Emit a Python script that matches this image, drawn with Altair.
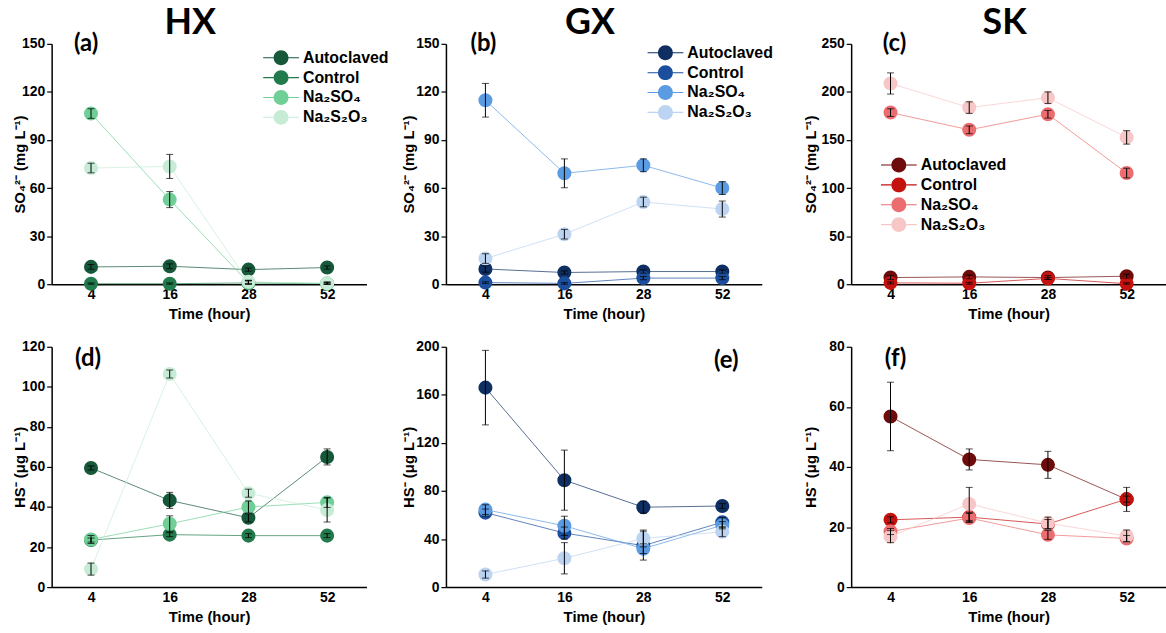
import altair as alt
import pandas as pd

times = ["4", "16", "28", "52"]
treatments = ["Autoclaved", "Control", "Na₂SO₄", "Na₂S₂O₃"]

green = ["#17583a", "#237a4c", "#6fcf96", "#c7ecd6"]
blue = ["#0f2f63", "#1b4f9e", "#5b9be2", "#bcd4f1"]
red = ["#6e0b0b", "#c4120f", "#ec6d6f", "#f7c6c6"]

# (a) HX sulfate, mg/L
a_auto = [10.8, 11.2, 9.1, 10.4]
a_ctrl = [0.3, 0.3, 0.8, 0.3]
a_so4 = [106.5, 52.8, 1.0, 0.5]
a_s2o3 = [72.5, 73.5, 1.5, 0.5]
a_auto_e = [1.5, 1.5, 1.0, 1.0]
a_ctrl_e = [0.5, 0.5, 1.5, 0.5]
a_so4_e = [3.0, 5.0, 1.0, 0.5]
a_s2o3_e = [3.0, 7.5, 1.0, 1.0]

# (b) GX sulfate
b_auto = [9.5, 7.3, 7.9, 7.9]
b_ctrl = [1.0, 0.5, 3.8, 3.8]
b_so4 = [114.8, 69.2, 74.2, 60.0]
b_s2o3 = [16.0, 31.2, 51.3, 46.9]
b_auto_e = [2.0, 1.0, 1.0, 1.0]
b_ctrl_e = [0.5, 0.5, 1.0, 1.0]
b_so4_e = [10.5, 9.0, 4.0, 4.0]
b_s2o3_e = [3.0, 3.0, 3.0, 5.0]

# (c) SK sulfate
c_auto = [6.9, 7.6, 6.9, 8.3]
c_ctrl = [1.4, 1.0, 6.0, 0.5]
c_so4 = [178.5, 160.6, 176.8, 115.6]
c_s2o3 = [208.8, 183.7, 194.0, 152.7]
c_auto_e = [2.0, 2.0, 2.0, 2.0]
c_ctrl_e = [1.0, 1.0, 1.0, 1.0]
c_so4_e = [4.0, 4.0, 4.0, 5.0]
c_s2o3_e = [11.0, 6.0, 6.0, 7.0]

# (d) HX sulfide, ug/L
d_auto = [59.5, 43.3, 34.6, 65.0]
d_ctrl = [23.5, 26.2, 25.7, 25.7]
d_so4 = [23.8, 31.6, 40.0, 42.3]
d_s2o3 = [9.0, 106.4, 46.9, 38.5]
d_auto_e = [1.0, 4.0, 2.0, 4.0]
d_ctrl_e = [1.0, 1.0, 1.0, 1.0]
d_so4_e = [2.0, 4.0, 3.0, 2.5]
d_s2o3_e = [3.0, 2.0, 2.0, 6.0]

# (e) GX sulfide
e_auto = [166.0, 89.0, 66.5, 67.5]
e_ctrl = [62.0, 45.0, 34.5, 54.0]
e_so4 = [64.5, 51.0, 32.0, 51.5]
e_s2o3 = [10.5, 24.0, 40.5, 46.0]
e_auto_e = [31.0, 25.0, 5.0, 2.0]
e_ctrl_e = [3.0, 5.0, 12.0, 4.0]
e_so4_e = [4.0, 8.0, 4.0, 3.0]
e_s2o3_e = [3.0, 13.0, 7.0, 4.0]

# (f) SK sulfide
f_auto = [56.8, 42.5, 40.7, 29.2]
f_ctrl = [22.4, 23.3, 21.0, 29.3]
f_so4 = [18.5, 23.0, 17.4, 16.2]
f_s2o3 = [16.8, 27.7, 21.3, 17.0]
f_auto_e = [11.4, 3.5, 4.5, 4.0]
f_ctrl_e = [1.0, 1.5, 1.5, 1.0]
f_so4_e = [1.0, 1.5, 1.5, 1.0]
f_s2o3_e = [2.0, 5.5, 2.0, 2.0]

SO4_TITLE = "SO₄²⁻ (mg L⁻¹)"
HS_TITLE = "HS⁻ (μg L⁻¹)"

LEGEND_PATH = ("M1,0A1,1 0 1,1 -1,0A1,1 0 1,1 1,0Z"
               "M-2.4,-0.07L-1,-0.07L-1,0.07L-2.4,0.07Z"
               "M1,-0.07L2.4,-0.07L2.4,0.07L1,0.07Z")

AXIS_FONT = "Liberation Sans"


def build_df(series, errors):
    rows = []
    for tr, vals, errs in zip(treatments, series, errors):
        for t, v, e in zip(times, vals, errs):
            rows.append({"time": t, "treatment": tr, "value": v,
                         "lo": max(v - e, 0), "hi": v + e})
    return pd.DataFrame(rows)


def panel(series, errors, colors, ymax, ystep, ytitle, title_x, label,
          label_time, label_dx, label_dy, width, head=None, head_dx=0,
          legend_xy=None):
    df = build_df(series, errors)
    xenc = alt.X("time:N", sort=times,
                 scale=alt.Scale(domain=times, type="point", padding=0.5),
                 axis=alt.Axis(title="Time (hour)", labelAngle=0, ticks=False,
                               labelPadding=3, titlePadding=6))
    yscale = alt.Scale(domain=[0, ymax], nice=False, zero=True)
    yaxis = alt.Axis(values=list(range(0, ymax + 1, ystep)), title=ytitle,
                     titleX=title_x, grid=False, tickSize=5, labelPadding=2)
    if legend_xy is not None:
        leg = alt.Legend(title=None, orient="none", legendX=legend_xy[0],
                         legendY=legend_xy[1], symbolType=LEGEND_PATH,
                         symbolSize=225, symbolStrokeWidth=0, labelOffset=14,
                         rowPadding=4, padding=0, labelFont=AXIS_FONT,
                         labelFontSize=16, labelFontWeight="bold",
                         labelColor="black", symbolOpacity=1)
    else:
        leg = None
    base = alt.Chart(df).encode(x=xenc)
    # line colours: same palette, data-driven domain ordered by the treatments list
    lines = base.mark_line(strokeWidth=1, opacity=0.7).encode(
        y=alt.Y("value:Q", scale=yscale, axis=yaxis),
        stroke=alt.Stroke("treatment:N", scale=alt.Scale(range=colors),
                          legend=None, sort=treatments),
    )
    points = base.mark_circle(size=200, opacity=1).encode(
        y=alt.Y("value:Q", scale=yscale, axis=yaxis),
        color=alt.Color("treatment:N", scale=alt.Scale(domain=treatments, range=colors),
                        legend=leg, sort=treatments),
    )
    bars = base.mark_rule(color="black", strokeWidth=1).encode(
        y=alt.Y("lo:Q", scale=yscale, axis=yaxis), y2="hi:Q")
    cap_lo = base.mark_tick(color="black", thickness=1, size=7).encode(
        y=alt.Y("lo:Q", scale=yscale, axis=yaxis))
    cap_hi = base.mark_tick(color="black", thickness=1, size=7).encode(
        y=alt.Y("hi:Q", scale=yscale, axis=yaxis))
    lab = alt.Chart(pd.DataFrame({"t": [label]})).mark_text(
        font="Lato", fontSize=24, fontWeight="bold", color="black",
        baseline="middle", align="center", dx=label_dx, dy=label_dy,
    ).encode(x=alt.datum(label_time), y=alt.datum(ymax), text="t:N")
    props = dict(width=width, height=242)
    if head is not None:
        props["title"] = alt.TitleParams(head, font="Lato", fontSize=36,
                                         fontWeight="bold", color="black",
                                         offset=-10, dx=head_dx, anchor="middle")
    return alt.layer(lines, points, bars, cap_lo, cap_hi, lab).properties(**props)


pa = panel([a_auto, a_ctrl, a_so4, a_s2o3], [a_auto_e, a_ctrl_e, a_so4_e, a_s2o3_e],
           green, 150, 30, SO4_TITLE, -24, "(a)", "4", -5, 0, 317,
           head="HX", head_dx=-19, legend_xy=(223, 6))
pb = panel([b_auto, b_ctrl, b_so4, b_s2o3], [b_auto_e, b_ctrl_e, b_so4_e, b_s2o3_e],
           blue, 150, 30, SO4_TITLE, -30, "(b)", "4", -2, 0, 318,
           head="GX", head_dx=-14, legend_xy=(213, 1))
pc = panel([c_auto, c_ctrl, c_so4, c_s2o3], [c_auto_e, c_ctrl_e, c_so4_e, c_s2o3_e],
           red, 250, 50, SO4_TITLE, -33, "(c)", "4", 4, 0, 317,
           head="SK", head_dx=-4, legend_xy=(40, 114))
pd_ = panel([d_auto, d_ctrl, d_so4, d_s2o3], [d_auto_e, d_ctrl_e, d_so4_e, d_s2o3_e],
            green, 120, 20, HS_TITLE, -24, "(d)", "4", -3, 12, 317)
pe = panel([e_auto, e_ctrl, e_so4, e_s2o3], [e_auto_e, e_ctrl_e, e_so4_e, e_s2o3_e],
           blue, 200, 40, HS_TITLE, -30, "(e)", "52", 4, 14, 318)
pf = panel([f_auto, f_ctrl, f_so4, f_s2o3], [f_auto_e, f_ctrl_e, f_so4_e, f_s2o3_e],
           red, 80, 20, HS_TITLE, -33, "(f)", "4", 5, 12, 317)

RES = dict(color="independent", stroke="independent", x="independent", y="independent")


def col(top, bottom):
    return alt.vconcat(top, bottom, spacing=18).resolve_scale(**RES).resolve_legend(
        color="independent", stroke="independent")


inner = alt.hconcat(col(pa, pd_), col(pb, pe), spacing=12).resolve_scale(**RES).resolve_legend(
    color="independent", stroke="independent")

chart = alt.hconcat(inner, col(pc, pf), spacing=30).resolve_scale(**RES).resolve_legend(
    color="independent", stroke="independent"
).properties(
    padding={"left": 13, "top": 3, "right": 0, "bottom": 0}
).configure_view(stroke=None).configure_axis(
    labelFont=AXIS_FONT, labelFontSize=14, labelFontWeight="bold", labelColor="black",
    titleFont=AXIS_FONT, titleFontSize=15, titleFontWeight="bold", titleColor="black",
    domainColor="black", domainWidth=1.5, tickColor="black", tickWidth=1.2,
)

chart.save("out.html", embed_options={"renderer": "svg", "actions": False})
